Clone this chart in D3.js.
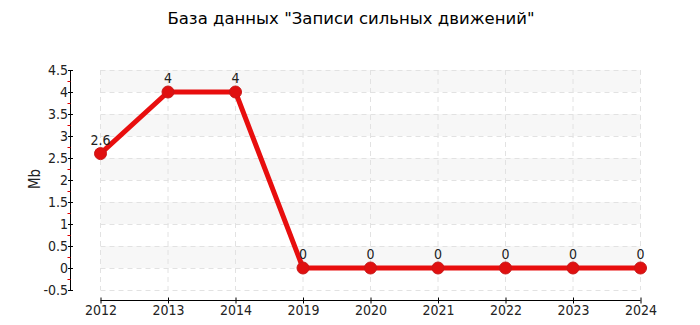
<!DOCTYPE html>
<meta charset="utf-8">
<style>
body { margin: 0; background: #fff; }
text { font-family: "DejaVu Sans Condensed", "DejaVu Sans", sans-serif; }
</style>
<div id="viz"></div>
<script src="https://d3js.org/d3.v7.min.js"></script>
<script>
// chart data
var years  = ["2012","2013","2014","2019","2020","2021","2022","2023","2024"];
var sizes  = [2.6, 4, 4, 0, 0, 0, 0, 0, 0];
var yTicks = [-0.5, 0, 0.5, 1, 1.5, 2, 2.5, 3, 3.5, 4, 4.5];
var title  = 'База данных "Записи сильных движений"';
var yLabel = "Mb";

var W = 700, H = 325;
var svg = d3.select("#viz").append("svg")
    .attr("width", W).attr("height", H);

var x = d3.scalePoint().domain(years).range([100.5, 640.5]);
var y = d3.scaleLinear().domain([-0.5, 4.5]).range([290, 70]);

// alternating bands
var bands = d3.range(-0.5, 4.5, 0.5);
svg.append("g").selectAll("rect")
    .data(bands)
    .enter().append("rect")
    .attr("x", x(years[0]))
    .attr("width", x(years[years.length-1]) - x(years[0]))
    .attr("y", function(d) { return y(d + 0.5); })
    .attr("height", function(d) { return y(d) - y(d + 0.5); })
    .attr("fill", function(d, i) { return i % 2 == 1 ? "#f7f7f7" : "none"; });

// gridlines
svg.append("g").selectAll("line")
    .data(yTicks)
    .enter().append("line")
    .attr("x1", x(years[0])).attr("x2", x(years[years.length-1]))
    .attr("y1", function(d) { return Math.round(y(d)) + 0.5; })
    .attr("y2", function(d) { return Math.round(y(d)) + 0.5; })
    .attr("stroke", "#e2e2e2").attr("stroke-dasharray", "5,4");
svg.append("g").selectAll("line")
    .data(years)
    .enter().append("line")
    .attr("x1", function(d) { return x(d); }).attr("x2", function(d) { return x(d); })
    .attr("y1", y(4.5)).attr("y2", y(-0.5))
    .attr("stroke", "#e2e2e2").attr("stroke-dasharray", "5,4");

// y axis
var yAxis = svg.append("g")
    .attr("transform", "translate(70.5,0)")
    .call(d3.axisLeft(y).tickValues(yTicks).tickSize(3)
        .tickFormat(function(d) { return String(d); }));
yAxis.selectAll(".tick line").attr("x2", 2.5).attr("x1", -2.5);
yAxis.select(".domain").attr("d", "M0," + y(4.5) + "V" + y(-0.5));
yAxis.selectAll("text")
    .attr("x", -2.5)
    .style("font-size", "14px").attr("fill", "#222");
// minor red ticks
svg.append("g").selectAll("line")
    .data(yTicks.slice(0, -1))
    .enter().append("line")
    .attr("x1", 67.5).attr("x2", 70.5)
    .attr("y1", function(d) { return Math.round(y(d + 0.25)) + 0.5; })
    .attr("y2", function(d) { return Math.round(y(d + 0.25)) + 0.5; })
    .attr("stroke", "#e00000");

// x axis
var xAxis = svg.append("g")
    .attr("transform", "translate(0,300.5)")
    .call(d3.axisBottom(x).tickSize(3).tickSizeOuter(0));
xAxis.select(".domain").attr("d", "M" + x(years[0]) + ",0H" + x(years[years.length-1]));
xAxis.selectAll(".tick line").attr("y1", -3).attr("y2", 3);
xAxis.selectAll("text")
    .attr("y", 5)
    .style("font-size", "14px").attr("fill", "#222");

// title and label
svg.append("text")
    .attr("x", 351).attr("y", 24)
    .attr("text-anchor", "middle")
    .style("font-family", "'DejaVu Sans', sans-serif")
    .style("font-size", "16.5px")
    .text(title);
svg.append("text")
    .attr("transform", "translate(40,179) rotate(-90)")
    .attr("text-anchor", "middle")
    .style("font-size", "15px").attr("fill", "#222")
    .text(yLabel);

// line
var line = d3.line()
    .x(function(d, i) { return x(years[i]); })
    .y(function(d) { return y(d); });
svg.append("path")
    .datum(sizes)
    .attr("d", line)
    .attr("fill", "none")
    .attr("stroke", "#e80e0e")
    .attr("stroke-width", 5)
    .attr("stroke-linejoin", "round");

svg.append("g").selectAll("circle")
    .data(sizes)
    .enter().append("circle")
    .attr("cx", function(d, i) { return x(years[i]); })
    .attr("cy", function(d) { return y(d); })
    .attr("r", 6)
    .attr("fill", "#e01010")
    .attr("stroke", "#c81818").attr("stroke-width", 1);

svg.append("g").selectAll("text")
    .data(sizes)
    .enter().append("text")
    .attr("x", function(d, i) { return x(years[i]); })
    .attr("y", function(d) { return y(d) - 9; })
    .attr("text-anchor", "middle")
    .style("font-size", "14px").attr("fill", "#222")
    .text(function(d) { return d; });
</script>
